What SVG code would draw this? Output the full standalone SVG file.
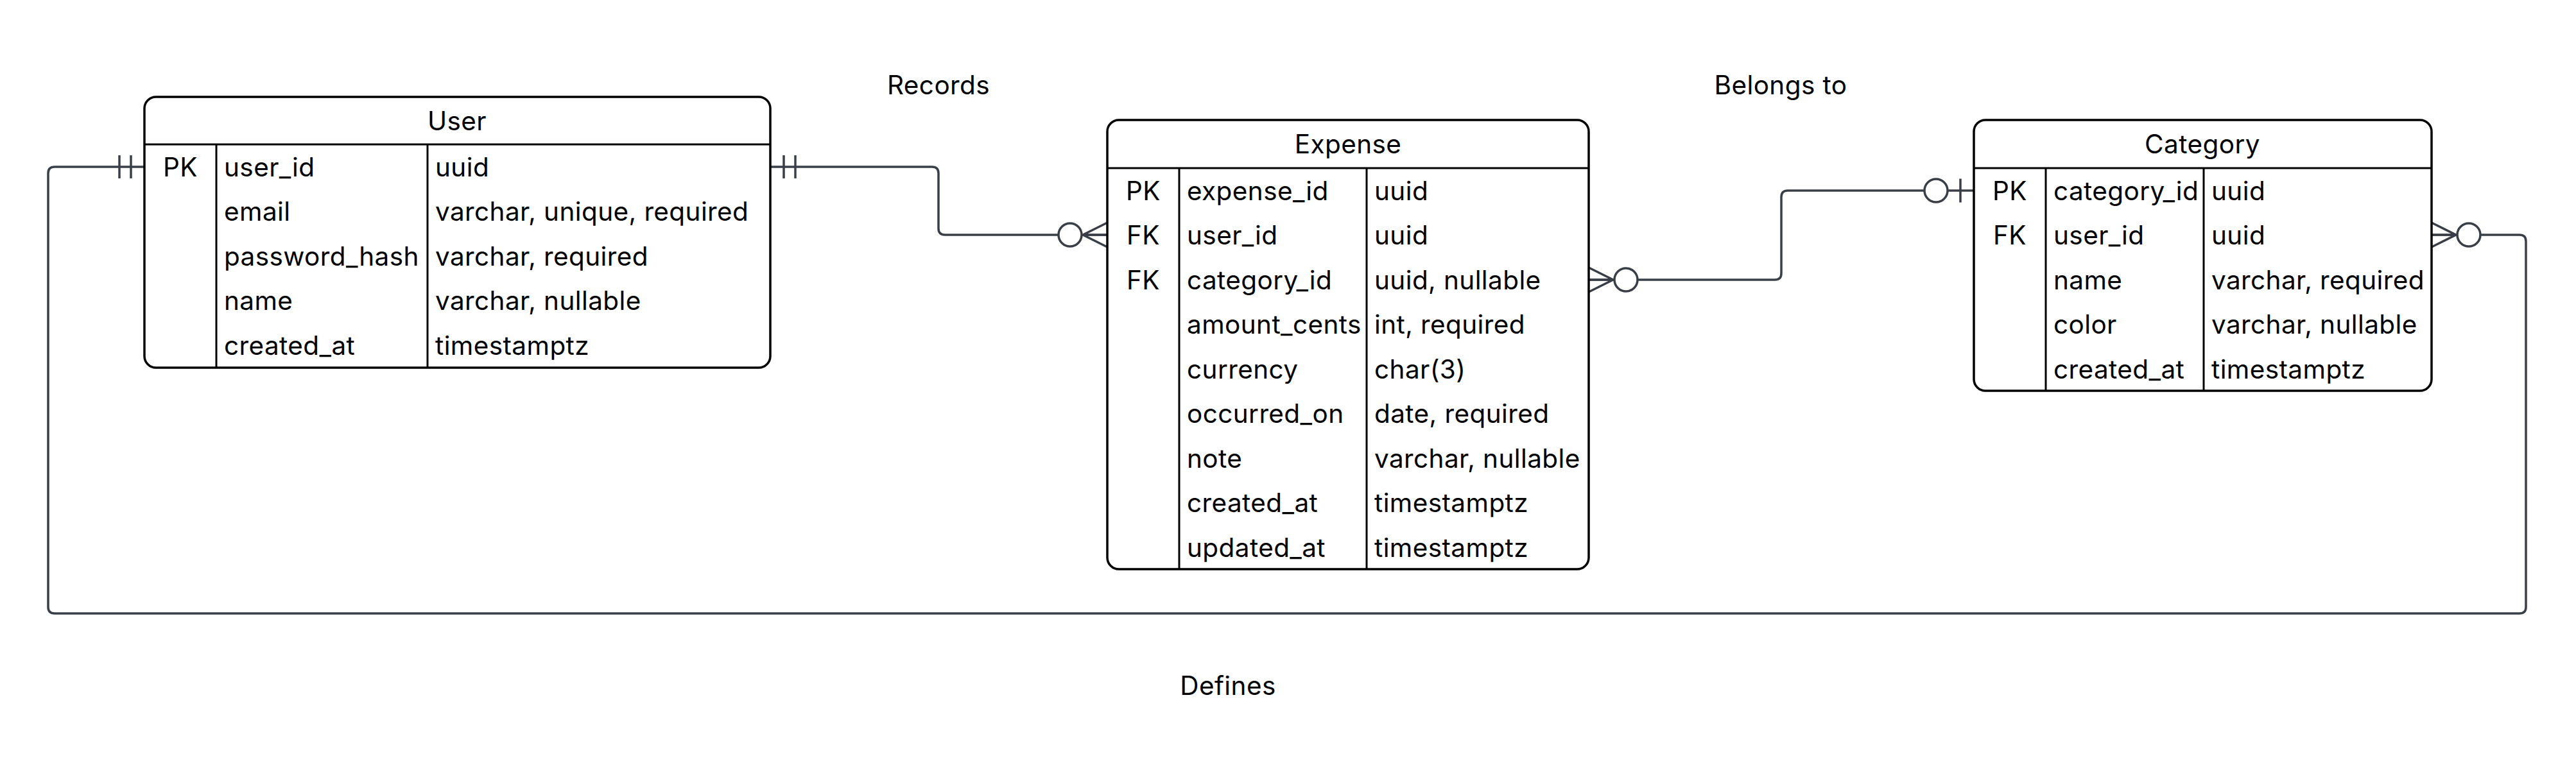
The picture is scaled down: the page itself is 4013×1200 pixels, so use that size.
<svg xmlns="http://www.w3.org/2000/svg" width="4013" height="1200" viewBox="0 0 4013 1200">
<style>
text{font-family:Inter,"Noto Sans","Liberation Sans",sans-serif;font-size:40.5px;letter-spacing:0.4px;fill:#000}
.box{fill:#fff;stroke:#000;stroke-width:3.5}
.div{stroke:#000;stroke-width:3}
.hdr{text-anchor:middle}
.key{text-anchor:middle}
.edge{fill:none;stroke:#3a3f47;stroke-width:3.5}
.mk{fill:none;stroke:#3a3f47;stroke-width:3.5}
.mkc{fill:#fff;stroke:#3a3f47;stroke-width:3.5}
.lbl{text-anchor:middle}
</style>
<defs>
<marker id="oneOnly" markerUnits="userSpaceOnUse" viewBox="-80 -30 100 60" markerWidth="100" markerHeight="60" refX="0" refY="0" orient="auto-start-reverse">
<line class="mk" x1="-21" y1="-18" x2="-21" y2="18"/>
<line class="mk" x1="-39" y1="-18" x2="-39" y2="18"/>
</marker>
<marker id="zeroMany" markerUnits="userSpaceOnUse" viewBox="-90 -30 100 60" markerWidth="100" markerHeight="60" refX="0" refY="0" orient="auto-start-reverse">
<path class="mk" d="M0,-19 L-38,0 L0,19 M-38,0 H0"/>
<circle class="mkc" cx="-58" cy="0" r="18"/>
</marker>
<marker id="zeroOne" markerUnits="userSpaceOnUse" viewBox="-90 -30 100 60" markerWidth="100" markerHeight="60" refX="0" refY="0" orient="auto-start-reverse">
<line class="mk" x1="-21" y1="-18.5" x2="-21" y2="18.5"/>
<circle class="mkc" cx="-59" cy="0" r="18"/>
</marker>
</defs>
<rect width="4013" height="1200" fill="#fff"/>

<g id="connectors">
<path id="edge-records" class="edge" d="M1200,260 H1452 Q1462,260 1462,270 V356 Q1462,366 1472,366 H1725" marker-start="url(#oneOnly)" marker-end="url(#zeroMany)"/>
<path id="edge-belongs" class="edge" d="M2475,436 H2765 Q2775,436 2775,426 V307 Q2775,297 2785,297 H3075" marker-start="url(#zeroMany)" marker-end="url(#zeroOne)"/>
<path id="edge-defines" class="edge" d="M225,260 H85 Q75,260 75,270 V946 Q75,956 85,956 H3925 Q3935,956 3935,946 V376 Q3935,366 3925,366 H3788" marker-start="url(#oneOnly)" marker-end="url(#zeroMany)"/>
<text class="lbl" x="1462" y="147">Records</text>
<text class="lbl" x="2774" y="147">Belongs to</text>
<text class="lbl" x="1913" y="1083">Defines</text>
</g>

<g id="node-user">
<rect class="box" x="225" y="151" width="975" height="422" rx="18"/>
<line class="div" x1="225" y1="225" x2="1200" y2="225"/>
<line class="div" x1="337" y1="225" x2="337" y2="573"/>
<line class="div" x1="666" y1="225" x2="666" y2="573"/>
<text class="hdr" x="712" y="202.5">User</text>
<text class="key" x="281" y="274.5">PK</text>
<text x="349" y="274.5">user_id</text><text x="678" y="274.5">uuid</text>
<text x="349" y="344">email</text><text x="678" y="344">varchar, unique, required</text>
<text x="349" y="413.5">password_hash</text><text x="678" y="413.5">varchar, required</text>
<text x="349" y="483">name</text><text x="678" y="483">varchar, nullable</text>
<text x="349" y="552.5">created_at</text><text x="678" y="552.5">timestamptz</text>
</g>

<g id="node-expense">
<rect class="box" x="1725" y="187" width="750" height="700" rx="18"/>
<line class="div" x1="1725" y1="262" x2="2475" y2="262"/>
<line class="div" x1="1837" y1="262" x2="1837" y2="887"/>
<line class="div" x1="2129" y1="262" x2="2129" y2="887"/>
<text class="hdr" x="2100" y="239">Expense</text>
<text class="key" x="1781" y="311.5">PK</text>
<text x="1849" y="311.5">expense_id</text><text x="2141" y="311.5">uuid</text>
<text class="key" x="1781" y="381">FK</text>
<text x="1849" y="381">user_id</text><text x="2141" y="381">uuid</text>
<text class="key" x="1781" y="450.5">FK</text>
<text x="1849" y="450.5">category_id</text><text x="2141" y="450.5">uuid, nullable</text>
<text x="1849" y="520">amount_cents</text><text x="2141" y="520">int, required</text>
<text x="1849" y="589.5">currency</text><text x="2141" y="589.5">char(3)</text>
<text x="1849" y="659">occurred_on</text><text x="2141" y="659">date, required</text>
<text x="1849" y="728.5">note</text><text x="2141" y="728.5">varchar, nullable</text>
<text x="1849" y="798">created_at</text><text x="2141" y="798">timestamptz</text>
<text x="1849" y="867.5">updated_at</text><text x="2141" y="867.5">timestamptz</text>
</g>

<g id="node-category">
<rect class="box" x="3075" y="187" width="713" height="422" rx="18"/>
<line class="div" x1="3075" y1="262" x2="3788" y2="262"/>
<line class="div" x1="3187" y1="262" x2="3187" y2="609"/>
<line class="div" x1="3433" y1="262" x2="3433" y2="609"/>
<text class="hdr" x="3431" y="239">Category</text>
<text class="key" x="3131" y="311.5">PK</text>
<text x="3199" y="311.5">category_id</text><text x="3445" y="311.5">uuid</text>
<text class="key" x="3131" y="381">FK</text>
<text x="3199" y="381">user_id</text><text x="3445" y="381">uuid</text>
<text x="3199" y="450.5">name</text><text x="3445" y="450.5">varchar, required</text>
<text x="3199" y="520">color</text><text x="3445" y="520">varchar, nullable</text>
<text x="3199" y="589.5">created_at</text><text x="3445" y="589.5">timestamptz</text>
</g>
</svg>
